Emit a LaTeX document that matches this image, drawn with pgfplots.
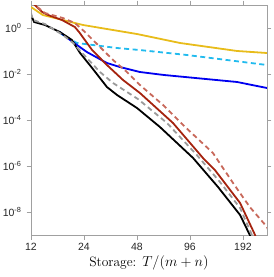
\documentclass[border=0pt]{standalone}
\usepackage{pgfplots}
\pgfplotsset{compat=1.18}
\usepackage{fontspec}
\newfontfamily\hel{Liberation Sans}
\definecolor{cyel}{HTML}{E8BC1A}
\definecolor{ccya}{HTML}{22BBEE}
\definecolor{cblu}{HTML}{0000F0}
\definecolor{cred}{HTML}{A5230F}
\definecolor{csal}{HTML}{C8685A}
\definecolor{cgry}{HTML}{9A9A9A}
\definecolor{caxis}{HTML}{A0A0A0}
\begin{document}
\begin{tikzpicture}
\begin{axis}[
  scale only axis, width=236pt, height=230pt,
  xmode=log, log basis x=2, ymode=log,
  xmin=12, xmax=263, ymin=1e-9, ymax=10,
  xtick={12,24,48,96,192}, xticklabels={12,24,48,96,192},
  ytick={1e-8,1e-6,1e-4,1e-2,1},
  yticklabels={10\textsuperscript{-8},10\textsuperscript{-6},10\textsuperscript{-4},10\textsuperscript{-2},10\textsuperscript{0}},
  minor tick num=0, minor xtick={}, minor ytick={},
  tick align=outside, major tick length=4.5pt,
  axis line style={caxis, line width=0.9pt},
  every tick/.style={caxis, line width=0.7pt},
  tick label style={font=\hel\fontsize{10.5}{11}\selectfont, text=black!85},
  yticklabel style={xshift=-1.5pt},
  xlabel={Storage: $T/(m+n)$},
  xlabel style={font=\fontsize{13.5}{14}\selectfont, at={(axis description cs:0.5,0)}, anchor=base, yshift=-31pt},
  clip=true,
  every axis plot/.append style={line width=1.8pt, line join=round},
]
\addplot[cyel] coordinates {(12,8.18) (14.0,3.67) (23.7,1.35) (48,0.548) (84.3,0.223) (178,0.1) (263,0.0818)};
\addplot[ccya, dash pattern=on 5pt off 3.5pt] coordinates {(17.5,0.670) (18.2,0.497) (21.9,0.223) (27.0,0.182) (37.0,0.135) (49.9,0.110) (92.3,0.067) (263,0.0246)};
\addplot[cblu] coordinates {(17.5,0.670) (20.0,0.301) (24.9,0.0906) (32.4,0.0301) (38.4,0.0201) (49.9,0.0122) (68.3,9.06e-3) (178,4.49e-3) (263,2.46e-3)};
\addplot[cred] coordinates {(12,15) (12.6,10) (13.9,4.97) (15.0,3.67) (18.0,2.23) (21.3,1.10) (22.5,0.670) (26.7,0.110) (32.4,0.0246) (40.0,5.48e-3) (49.9,1.49e-3) (76.9,7.41e-5) (113.8,2.23e-6) (133,6.70e-7) (185,2.46e-8) (225,1e-9) (232,4e-10)};
\addplot[csal, dash pattern=on 5pt off 3.5pt] coordinates {(12,15) (12.6,10) (14.4,4.49) (18.2,2.72) (21.3,1.65) (24.3,0.670) (29.6,0.149) (35.1,0.0406) (42.1,0.0122) (49.9,3.33e-3) (67.5,4.49e-4) (87.7,6.07e-5) (129.7,3.67e-6) (168.7,1.82e-7) (210,1.65e-8) (263,2.23e-9) (280,6e-10)};
\addplot[black] coordinates {(12,3.67) (12.5,1.82) (14.4,1.35) (17.5,0.670) (20.5,0.301) (22.8,0.0818) (26.7,0.0182) (32.4,2.72e-3) (37.0,1.22e-3) (48,3.33e-4) (64.8,4.97e-5) (100,2.23e-6) (138.6,1.22e-7) (185,7.41e-9) (210,1e-9) (216,5e-10)};
\addplot[cgry, dash pattern=on 5pt off 3.5pt] coordinates {(12,4.49) (12.3,2.23) (14.4,1.49) (18.2,0.497) (20.8,0.223) (24.9,0.0497) (29.6,0.0122) (35.1,4.06e-3) (48.6,8.18e-4) (71.1,7.41e-5) (105,3.01e-6) (142.2,2.01e-7) (185,1.49e-8) (216,1e-9) (222,5e-10)};
\end{axis}
\pgfresetboundingbox
\path ([xshift=-31pt,yshift=-42pt]current axis.south west) rectangle ([xshift=7pt,yshift=5pt]current axis.north east);
\end{tikzpicture}
\end{document}
